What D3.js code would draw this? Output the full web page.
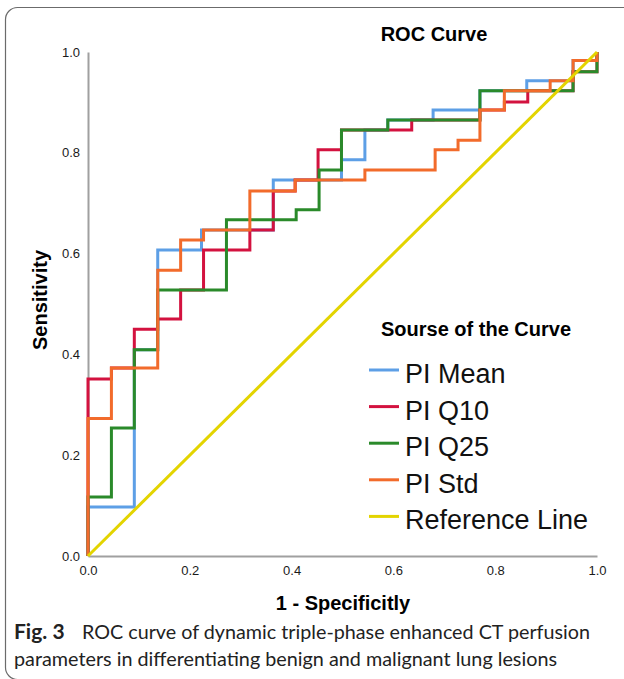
<!DOCTYPE html>
<html>
<head>
<meta charset="utf-8">
<script src="https://cdn.jsdelivr.net/npm/d3@7"></script>
<style>
  body { margin: 0; background: #fff; }
  svg { display: block; }
</style>
</head>
<body>
<div id="chart"></div>
<script>
// ROC points [1 - specificity, sensitivity]
const piMean = [[0,0],[0,0.097],[0.091,0.097],[0.091,0.409],[0.137,0.409],[0.137,0.607],[0.223,0.607],[0.223,0.647],
  [0.364,0.647],[0.364,0.746],[0.498,0.746],[0.498,0.786],[0.544,0.786],[0.544,0.845],[0.589,0.845],[0.589,0.865],
  [0.678,0.865],[0.678,0.885],[0.770,0.885],[0.770,0.923],[0.862,0.923],[0.862,0.943],[0.953,0.943],[0.953,0.983],
  [1,0.983],[1,1]];
const piQ10 = [[0,0],[0,0.351],[0.046,0.351],[0.046,0.373],[0.091,0.373],[0.091,0.450],[0.137,0.450],[0.137,0.470],
  [0.182,0.470],[0.182,0.528],[0.227,0.528],[0.227,0.607],[0.318,0.607],[0.318,0.647],[0.364,0.647],[0.364,0.724],
  [0.407,0.724],[0.407,0.746],[0.452,0.746],[0.452,0.806],[0.498,0.806],[0.498,0.845],[0.636,0.845],[0.636,0.865],
  [0.770,0.865],[0.770,0.885],[0.818,0.885],[0.818,0.901],[0.864,0.901],[0.864,0.923],[0.953,0.923],[0.953,0.961],
  [1,0.961],[1,1]];
const piQ25 = [[0,0],[0,0.117],[0.046,0.117],[0.046,0.254],[0.091,0.254],[0.091,0.409],[0.137,0.409],[0.137,0.528],
  [0.272,0.528],[0.272,0.667],[0.409,0.667],[0.409,0.687],[0.454,0.687],[0.454,0.766],[0.498,0.766],[0.498,0.845],
  [0.589,0.845],[0.589,0.865],[0.770,0.865],[0.770,0.923],[0.953,0.923],[0.953,0.961],[1,0.961],[1,1]];
const piStd = [[0,0],[0,0.273],[0.046,0.273],[0.046,0.373],[0.137,0.373],[0.137,0.567],[0.182,0.567],[0.182,0.627],
  [0.227,0.627],[0.227,0.647],[0.318,0.647],[0.318,0.724],[0.407,0.724],[0.407,0.746],[0.544,0.746],[0.544,0.766],
  [0.682,0.766],[0.682,0.806],[0.727,0.806],[0.727,0.825],[0.770,0.825],[0.770,0.885],[0.818,0.885],[0.818,0.923],
  [0.908,0.923],[0.908,0.943],[0.953,0.943],[0.953,0.983],[1,0.983],[1,1]];
const refLine = [[0,0],[1,1]];

const seriesNames = ["PI Mean", "PI Q10", "PI Q25", "PI Std", "Reference Line"];
const seriesData = [piMean, piQ10, piQ25, piStd, refLine];
const seriesColors = ["#5d9fe6", "#d3123f", "#2a8a2a", "#f26b2b", "#e3d400"];
const tickValues = [0, 0.2, 0.4, 0.6, 0.8, 1.0];

const W = 624, H = 679;
const plot = {left: 88, right: 597, top: 52, bottom: 556};

const svg = d3.select("#chart").append("svg")
    .attr("width", W)
    .attr("height", H);

// frame round the figure (runs off the right/bottom edge like the scan)
svg.append("rect")
    .attr("x", 5.5).attr("y", 7.5)
    .attr("width", 660).attr("height", 672)
    .attr("rx", 12)
    .attr("fill", "none")
    .attr("stroke", "#6b6b6b")
    .attr("stroke-width", 1.2);

const x = d3.scaleLinear().domain([0, 1]).range([plot.left, plot.right]);
const y = d3.scaleLinear().domain([0, 1]).range([plot.bottom, plot.top]);

const font = "'Liberation Sans', Arial, sans-serif";

// axes
const xAxis = svg.append("g")
    .attr("transform", `translate(0,${plot.bottom})`)
    .call(d3.axisBottom(x).tickValues(tickValues).tickFormat(d3.format(".1f")).tickSize(0).tickPadding(10));
const yAxis = svg.append("g")
    .attr("transform", `translate(${plot.left},0)`)
    .call(d3.axisLeft(y).tickValues(tickValues).tickFormat(d3.format(".1f")).tickSize(0).tickPadding(8));
[xAxis, yAxis].forEach(a => {
    a.select(".domain").attr("stroke", "#a0a0a0").attr("stroke-width", 2);
    a.selectAll("text").attr("font-family", font).attr("font-size", 13).attr("fill", "#1a1a1a");
});

// curves
const line = d3.line()
    .x(d => x(d[0]))
    .y(d => y(d[1]));

seriesData.forEach((s, i) => {
    svg.append("path")
        .datum(s)
        .attr("fill", "none")
        .attr("stroke", seriesColors[i])
        .attr("stroke-width", 3)
        .attr("stroke-linejoin", "miter")
        .attr("d", line);
});

// title and axis labels
svg.append("text")
    .attr("x", 434).attr("y", 41)
    .attr("text-anchor", "middle")
    .attr("font-family", font).attr("font-weight", "bold").attr("font-size", 20)
    .text("ROC Curve");

svg.append("text")
    .attr("x", 343).attr("y", 610)
    .attr("text-anchor", "middle")
    .attr("font-family", font).attr("font-weight", "bold").attr("font-size", 20)
    .text("1 - Specificitly");

svg.append("text")
    .attr("transform", `translate(47,300) rotate(-90)`)
    .attr("text-anchor", "middle")
    .attr("font-family", font).attr("font-weight", "bold").attr("font-size", 20)
    .text("Sensitivity");

// legend
const legend = svg.append("g").attr("transform", "translate(369,0)");
legend.append("text")
    .attr("x", 12).attr("y", 336)
    .attr("font-family", font).attr("font-weight", "bold").attr("font-size", 20)
    .text("Sourse of the Curve");

const items = legend.selectAll("g.item")
    .data(seriesNames)
    .join("g")
    .attr("class", "item")
    .attr("transform", (d, i) => `translate(0,${383 + i * 36.6})`);
items.append("line")
    .attr("x1", 0).attr("x2", 30)
    .attr("y1", -13).attr("y2", -13)
    .attr("stroke", (d, i) => seriesColors[i])
    .attr("stroke-width", 3);
items.append("text")
    .attr("x", 36)
    .attr("font-family", font).attr("font-size", 27)
    .attr("fill", "#111")
    .text(d => d);

// caption
const capFont = "Lato, 'Open Sans', sans-serif";
svg.append("text")
    .attr("x", 14).attr("y", 639)
    .attr("font-family", capFont).attr("font-weight", "bold").attr("font-size", 21)
    .attr("fill", "#222")
    .text("Fig. 3");
svg.append("text")
    .attr("x", 82).attr("y", 639)
    .attr("font-family", capFont).attr("font-size", 19)
    .attr("fill", "#222")
    .attr("textLength", 508).attr("lengthAdjust", "spacingAndGlyphs")
    .text("ROC curve of dynamic triple-phase enhanced CT perfusion");
svg.append("text")
    .attr("x", 14).attr("y", 666)
    .attr("font-family", capFont).attr("font-size", 19)
    .attr("fill", "#222")
    .attr("textLength", 543).attr("lengthAdjust", "spacingAndGlyphs")
    .text("parameters in differentiating benign and malignant lung lesions");
</script>
</body>
</html>
